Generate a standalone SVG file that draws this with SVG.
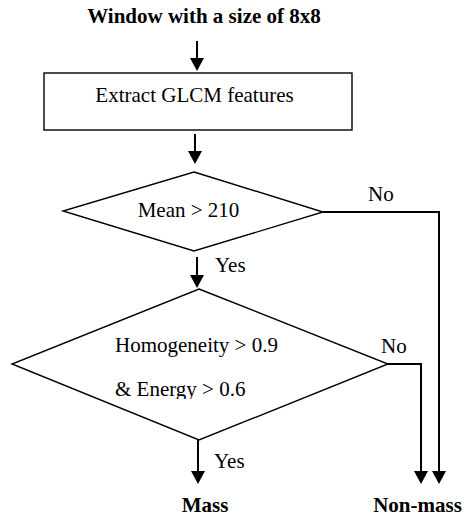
<svg xmlns="http://www.w3.org/2000/svg" width="464" height="518" viewBox="0 0 464 518">
<style>
text { font-family: "Liberation Serif", "Times New Roman", serif; font-size: 21px; fill: #000; }
.b { font-weight: bold; }
.shape { fill: #fff; stroke: #000; stroke-width: 1.4; }
.conn { fill: none; stroke: #000; stroke-width: 2; }
</style>
<defs>
<marker id="ah" markerUnits="userSpaceOnUse" viewBox="0 -7 13 14" refX="0" refY="0" markerWidth="13" markerHeight="14" orient="auto">
<path d="M0,-7 L13,0 L0,7 z" fill="#000"/>
</marker>
<clipPath id="clipE"><rect x="0" y="370" width="464" height="29"/></clipPath>
</defs>
<rect width="464" height="518" fill="#fff"/>
<g id="title"><text class="b" x="204" y="23" text-anchor="middle">Window with a size of 8x8</text></g>
<g id="extract">
<rect class="shape" x="44" y="73" width="308" height="57"/>
<text x="194.5" y="102" text-anchor="middle">Extract GLCM features</text>
</g>
<g id="mean">
<polygon class="shape" points="194,172 323,212 194,251 63,211"/>
<text x="188.5" y="217" text-anchor="middle">Mean &gt; 210</text>
</g>
<g id="homog">
<polygon class="shape" points="199,289 388,364 199,440 12,364"/>
<text x="115" y="352">Homogeneity &gt; 0.9</text>
<text x="115" y="396" clip-path="url(#clipE)">&amp; Energy &gt; 0.6</text>
</g>
<g id="mass"><text class="b" x="205" y="512" text-anchor="middle">Mass</text></g>
<g id="nonmass"><text class="b" x="417.5" y="512" text-anchor="middle">Non-mass</text></g>
<g id="connectors">
<path class="conn" d="M197,41 V58" marker-end="url(#ah)"/>
<path class="conn" d="M195,134 V151" marker-end="url(#ah)"/>
<path class="conn" d="M197,257 V275" marker-end="url(#ah)"/>
<path class="conn" d="M323,212 H439 V471" marker-end="url(#ah)"/>
<path class="conn" d="M387,364 H421 V471" marker-end="url(#ah)"/>
<path class="conn" d="M198,440 V471" marker-end="url(#ah)"/>
<text x="368" y="201">No</text>
<text x="381" y="353">No</text>
<text x="215" y="272">Yes</text>
<text x="214" y="468">Yes</text>
</g>
</svg>
